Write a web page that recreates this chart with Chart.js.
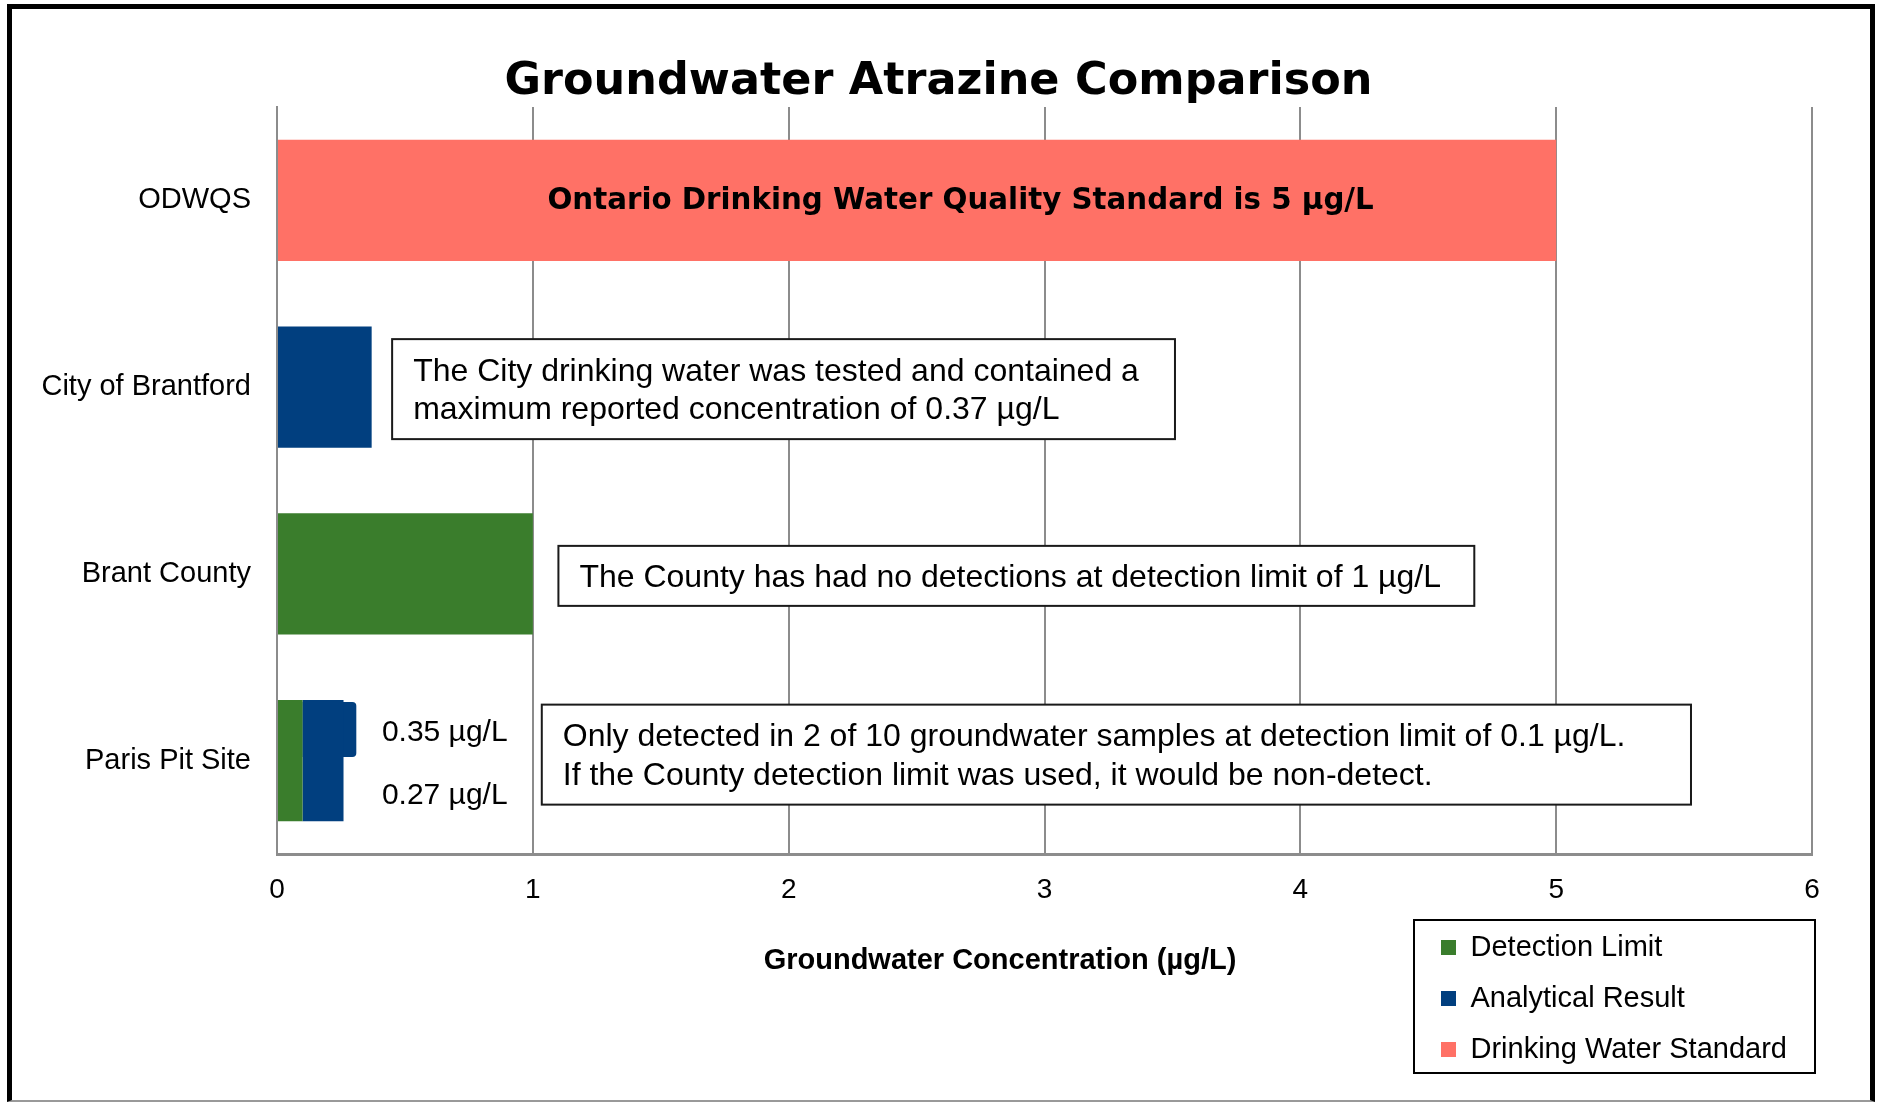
<!DOCTYPE html>
<html>
<head>
<meta charset="utf-8">
<script src="https://cdn.jsdelivr.net/npm/chart.js@4/dist/chart.umd.min.js"></script>
<style>
	html, body { margin: 0; padding: 0; background: #fff; }
	#wrap { position: relative; width: 1877px; height: 1102px; overflow: hidden; }
	#frame {
		position: absolute; left: 7px; top: 4px; width: 1868px; height: 1098px;
		box-sizing: border-box; pointer-events: none;
		border-top: 5px solid #000; border-left: 5px solid #000;
		border-right: 5px solid #000; border-bottom: 2px solid #999;
	}
</style>
</head>
<body>
<div id="wrap">
	<canvas id="chart" width="1877" height="1102"></canvas>
	<div id="frame"></div>
</div>
<script>
// data
const categories = ['ODWQS', 'City of Brantford', 'Brant County', 'Paris Pit Site']
const seriesNames = ['Detection Limit', 'Analytical Result', 'Drinking Water Standard']
const detectionLimit = [null, null, [0, 1], [0, 0.1]]
const analyticalResult = [null, [0, 0.37], null, [0.1, 0.26]]
const drinkingStandard = [[0, 5], null, null, null]
// second Paris sample sits in the upper half of its row
const subRows = ['', '', 'Paris Pit Site']
const parisSecondSample = [null, null, [0.1, 0.31]]
const xMin = 0
const xMax = 6

const chartTitle = 'Groundwater Atrazine Comparison'
const xTitle = 'Groundwater Concentration (µg/L)'
const standardNote = 'Ontario Drinking Water Quality Standard is 5 µg/L'
const sampleLabels = ['0.35 µg/L', '0.27 µg/L']
const noteCity = ['The City drinking water was tested and contained a', 'maximum reported concentration of 0.37 µg/L']
const noteCounty = ['The County has had no detections at detection limit of 1 µg/L']
const noteParis = ['Only detected in 2 of 10 groundwater samples at detection limit of 0.1 µg/L.', 'If the County detection limit was used, it would be non-detect.']

const GREEN = '#3A7D2C'
const BLUE = '#013F7F'
const SALMON = '#FF7166'
const GRID = '#8C8C8C'
const SANS = 'Liberation Sans, Arial, sans-serif'
const WIDE_BOLD = 'DejaVu Sans, Verdana, sans-serif'

const notesPlugin = {
	id: 'notes',
	afterLayout(chart) {
		// park the legend in the lower right corner, under the axis
		const lg = chart.legend
		const ca = chart.chartArea
		lg.left = ca.right - 393
		lg.right = ca.right + 3
		lg.top = ca.bottom + 57
		lg.bottom = ca.bottom + 219
		lg.width = lg.right - lg.left
		lg.height = lg.bottom - lg.top
	},
	afterDatasetsDraw(chart) {
		const ctx = chart.ctx
		const x = chart.scales.x
		const y = chart.scales.y
		const ys = chart.scales.ySub

		const box = (lines, x0, x1, row, dy, h) => {
			const left = x.getPixelForValue(x0)
			const right = x.getPixelForValue(x1)
			const top = y.getPixelForValue(row) + dy
			ctx.save()
			ctx.fillStyle = '#fff'
			ctx.fillRect(left, top, right - left, h)
			ctx.strokeStyle = '#1a1a1a'
			ctx.lineWidth = 2
			ctx.strokeRect(left, top, right - left, h)
			ctx.fillStyle = '#000'
			ctx.font = '32px ' + SANS
			ctx.textBaseline = 'middle'
			ctx.textAlign = 'left'
			const mid = top + h / 2
			const step = 38.5
			lines.forEach((t, i) => {
				ctx.fillText(t, left + 21, mid + (i - (lines.length - 1) / 2) * step + 2)
			})
			ctx.restore()
		}

		box(noteCity, 0.45, 3.51, 1, -48, 100)
		box(noteCounty, 1.1, 4.68, 2, -28, 60)
		box(noteParis, 1.035, 5.527, 3, -56, 100)

		ctx.save()
		ctx.fillStyle = '#000'
		ctx.textBaseline = 'middle'
		ctx.textAlign = 'left'
		ctx.font = 'bold 29.3px ' + WIDE_BOLD
		ctx.fillText(standardNote, x.getPixelForValue(1.057), y.getPixelForValue(0) + 1)
		ctx.font = '30px ' + SANS
		ctx.fillText(sampleLabels[0], x.getPixelForValue(0.41), ys.getPixelForValue(2) + 3)
		ctx.fillText(sampleLabels[1], x.getPixelForValue(0.41), y.getPixelForValue(3) + 35)
		// axis title, set a little left of the axis centre as in the original
		ctx.textAlign = 'center'
		ctx.font = 'bold 29px ' + SANS
		ctx.fillText(xTitle, x.getPixelForValue(2.826), chart.chartArea.bottom + 107)
		ctx.restore()
	},
	afterDraw(chart) {
		const ctx = chart.ctx
		const ca = chart.chartArea
		ctx.save()
		ctx.strokeStyle = '#000'
		ctx.lineWidth = 2
		ctx.strokeRect(ca.right - 398, ca.bottom + 66, 401, 153)
		ctx.restore()
	},
}

const barOpts = { categoryPercentage: 1, barPercentage: 0.648, grouped: false, borderWidth: 0 }

new Chart(document.getElementById('chart'), {
	type: 'bar',
	data: {
		labels: categories,
		datasets: [
			{ label: seriesNames[0], data: detectionLimit, backgroundColor: GREEN, ...barOpts },
			{ label: seriesNames[1], data: analyticalResult, backgroundColor: BLUE, ...barOpts },
			{ label: seriesNames[2], data: drinkingStandard, backgroundColor: SALMON, ...barOpts },
			{
				label: seriesNames[1] + ' (second sample)',
				data: parisSecondSample,
				yAxisID: 'ySub',
				backgroundColor: BLUE,
				categoryPercentage: 1,
				barPercentage: 0.221,
				grouped: false,
				borderWidth: 0,
				borderRadius: 4,
				borderSkipped: 'start',
			},
		],
	},
	options: {
		indexAxis: 'y',
		responsive: false,
		animation: false,
		layout: { padding: { top: 3, left: 0, right: 0, bottom: 0 } },
		scales: {
			x: {
				type: 'linear',
				min: xMin,
				max: xMax,
				ticks: { stepSize: 1, color: '#000', font: { family: SANS, size: 28 }, padding: 19 },
				grid: { color: GRID, lineWidth: 2, drawTicks: false },
				border: { color: GRID, width: 3 },
				afterFit: s => { s.height = 247 },
			},
			y: {
				type: 'category',
				offset: true,
				ticks: { color: '#000', font: { family: SANS, size: 29 }, padding: 26 },
				grid: { display: false, drawTicks: false },
				border: { color: GRID, width: 2 },
				afterFit: s => { s.width = 277 },
			},
			// half-row axis on the right, invisible; it also holds the right margin
			ySub: {
				type: 'category',
				position: 'right',
				labels: subRows,
				offset: true,
				ticks: { display: false },
				grid: { display: false, drawTicks: false },
				border: { display: false },
				afterFit: s => { s.width = 65 },
			},
		},
		plugins: {
			title: {
				display: true,
				text: chartTitle,
				color: '#000',
				font: { family: WIDE_BOLD, size: 44.5, weight: 'bold', lineHeight: 1 },
				padding: { top: 56.75, bottom: 2.75 },
			},
			legend: {
				position: 'bottom',
				align: 'start',
				maxHeight: 1,
				labels: {
					color: '#000',
					font: { family: SANS, size: 29 },
					boxWidth: 15,
					boxHeight: 15,
					padding: 22,
					filter: item => item.datasetIndex < 3,
				},
			},
			tooltip: { enabled: false },
		},
	},
	plugins: [notesPlugin],
})
</script>
</body>
</html>
